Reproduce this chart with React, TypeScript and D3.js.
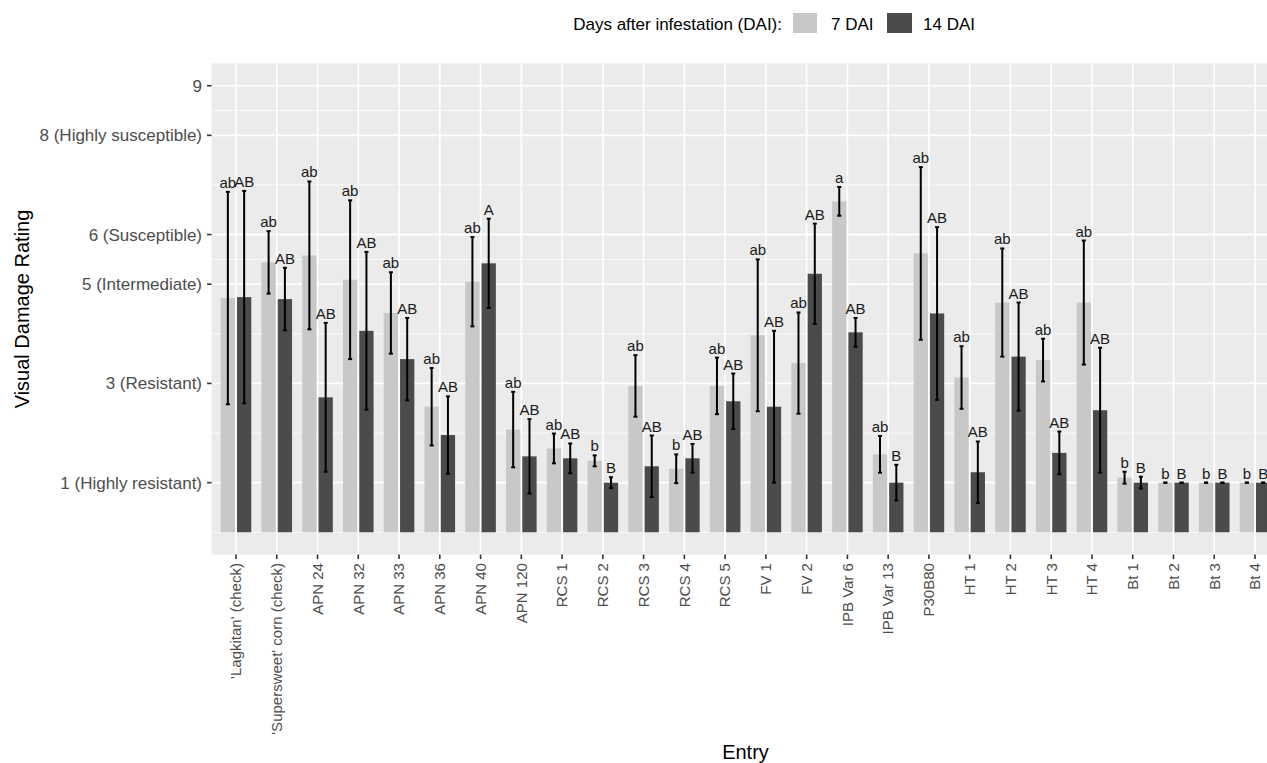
import React from "react";
import * as d3 from "d3";

const entries = ["'Lagkitan' (check)", "'Supersweet' corn (check)", "APN 24", "APN 32", "APN 33", "APN 36", "APN 40", "APN 120", "RCS 1", "RCS 2", "RCS 3", "RCS 4", "RCS 5", "FV 1", "FV 2", "IPB Var 6", "IPB Var 13", "P30B80", "HT 1", "HT 2", "HT 3", "HT 4", "Bt 1", "Bt 2", "Bt 3", "Bt 4"];
const dai7 = [4.72, 5.44, 5.58, 5.09, 4.42, 2.53, 5.05, 2.07, 1.69, 1.44, 2.95, 1.28, 2.95, 3.97, 3.41, 6.67, 1.57, 5.62, 3.12, 4.63, 3.47, 4.63, 1.1, 1.0, 1.0, 1.0];
const dai14 = [4.74, 4.7, 2.72, 4.06, 3.49, 1.96, 5.42, 1.53, 1.49, 1.0, 1.33, 1.49, 2.64, 2.53, 5.21, 4.03, 1.0, 4.41, 1.21, 3.54, 1.6, 2.46, 1.0, 1.0, 1.0, 1.0];
const se7 = [2.14, 0.63, 1.49, 1.6, 0.82, 0.78, 0.9, 0.76, 0.3, 0.11, 0.62, 0.29, 0.57, 1.53, 1.02, 0.29, 0.37, 1.74, 0.63, 1.09, 0.43, 1.25, 0.12, 0, 0, 0];
const se14 = [2.14, 0.63, 1.5, 1.59, 0.83, 0.78, 0.9, 0.75, 0.3, 0.11, 0.62, 0.29, 0.56, 1.53, 1.01, 0.29, 0.36, 1.74, 0.62, 1.09, 0.43, 1.26, 0.12, 0, 0, 0];
const letters7 = ["ab", "ab", "ab", "ab", "ab", "ab", "ab", "ab", "ab", "b", "ab", "b", "ab", "ab", "ab", "a", "ab", "ab", "ab", "ab", "ab", "ab", "b", "b", "b", "b"];
const letters14 = ["AB", "AB", "AB", "AB", "AB", "AB", "A", "AB", "AB", "B", "AB", "AB", "AB", "AB", "AB", "AB", "B", "AB", "AB", "AB", "AB", "AB", "B", "B", "B", "B"];
const groups = ["7 DAI", "14 DAI"];
const yBreaks = [1, 3, 5, 6, 8, 9];
const yBreakLabels = ["1 (Highly resistant)", "3 (Resistant)", "5 (Intermediate)", "6 (Susceptible)", "8 (Highly susceptible)", "9"];
const yMinor = [0, 2, 4, 5.5, 7, 8.5];

const W = 1267;
const H = 763;
const FONT = "'Liberation Sans', Arial, Helvetica, sans-serif";
const colors = ["#C8C8C8", "#4B4B4B"];

export default function App() {
  const x = d3.scalePoint<string>().domain(entries).range([236, 1255]);
  const step = x.step();
  const panelL = (x(entries[0]) as number) - 0.6 * step;
  const panelR = (x(entries[entries.length - 1]) as number) + 0.6 * step;
  const y = d3.scaleLinear().domain([-0.45, 9.45]).range([554.6, 63.4]);
  const panelT = y(9.45);
  const panelB = y(-0.45);
  const xg = d3
    .scaleBand<string>()
    .domain(groups)
    .range([-0.4 * step, 0.4 * step])
    .paddingInner(0.125)
    .paddingOuter(0.0625);
  const bw = xg.bandwidth();

  const series = [
    { key: groups[0], vals: dai7, se: se7, letters: letters7, color: colors[0] },
    { key: groups[1], vals: dai14, se: se14, letters: letters14, color: colors[1] },
  ];

  return (
    <svg
      width={W}
      height={H}
      style={{ position: "absolute", left: 0, top: 0, background: "#fff", fontFamily: FONT }}
    >
      <rect x={panelL} y={panelT} width={panelR - panelL} height={panelB - panelT} fill="#EBEBEB" />
      {yMinor.map((v) => (
        <line key={"mn" + v} x1={panelL} x2={panelR} y1={y(v)} y2={y(v)} stroke="#fff" strokeWidth={0.8} />
      ))}
      {yBreaks.map((v) => (
        <line key={"mj" + v} x1={panelL} x2={panelR} y1={y(v)} y2={y(v)} stroke="#fff" strokeWidth={1.6} />
      ))}
      {entries.map((e) => (
        <line key={"vg" + e} x1={x(e)} x2={x(e)} y1={panelT} y2={panelB} stroke="#fff" strokeWidth={1.6} />
      ))}
      {series.map((s) =>
        entries.map((e, i) => {
          const cx = (x(e) as number) + (xg(s.key) as number) + bw / 2;
          return (
            <rect
              key={s.key + e}
              x={cx - bw / 2}
              y={y(s.vals[i])}
              width={bw}
              height={y(0) - y(s.vals[i])}
              fill={s.color}
            />
          );
        })
      )}
      {series.map((s) =>
        entries.map((e, i) => {
          const cx = (x(e) as number) + (xg(s.key) as number) + bw / 2;
          const hi = y(s.vals[i] + s.se[i]);
          const lo = y(s.vals[i] - s.se[i]);
          const cw = 2;
          return (
            <g key={"eb" + s.key + e} stroke="#000" strokeWidth={2}>
              {s.se[i] > 0 && <line x1={cx} x2={cx} y1={hi} y2={lo} />}
              <line x1={cx - cw} x2={cx + cw} y1={hi} y2={hi} />
              <line x1={cx - cw} x2={cx + cw} y1={lo} y2={lo} />
            </g>
          );
        })
      )}
      {series.map((s) =>
        entries.map((e, i) => {
          const cx = (x(e) as number) + (xg(s.key) as number) + bw / 2;
          return (
            <text
              key={"lb" + s.key + e}
              x={cx}
              y={y(s.vals[i] + s.se[i]) - 4}
              textAnchor="middle"
              fontSize={15}
              fill="#1a1a1a"
            >
              {s.letters[i]}
            </text>
          );
        })
      )}
      {yBreaks.map((v, i) => (
        <g key={"yt" + v}>
          <line x1={panelL - 4.5} x2={panelL} y1={y(v)} y2={y(v)} stroke="#333" strokeWidth={1.6} />
          <text x={panelL - 9.5} y={y(v)} dy="0.35em" textAnchor="end" fontSize={17} fill="#4D4D4D">
            {yBreakLabels[i]}
          </text>
        </g>
      ))}
      {entries.map((e) => (
        <g key={"xt" + e}>
          <line x1={x(e)} x2={x(e)} y1={panelB} y2={panelB + 4.5} stroke="#333" strokeWidth={1.6} />
          <text
            transform={`translate(${(x(e) as number) + 5.3},${panelB + 8.5}) rotate(-90)`}
            textAnchor="end"
            fontSize={15}
            fill="#4D4D4D"
          >
            {e}
          </text>
        </g>
      ))}
      <text transform={`translate(29,${(panelT + panelB) / 2}) rotate(-90)`} textAnchor="middle" fontSize={20} fill="#000">
        Visual Damage Rating
      </text>
      <text x={(panelL + panelR) / 2} y={759} textAnchor="middle" fontSize={20} fill="#000">
        Entry
      </text>
      <g>
        <text x={782} y={29.5} textAnchor="end" fontSize={17} fill="#000">
          Days after infestation (DAI):
        </text>
        <rect x={793} y={13} width={24} height={20} fill={colors[0]} />
        <text x={831} y={29.5} fontSize={17} fill="#000">
          {groups[0]}
        </text>
        <rect x={887} y={13} width={25} height={20} fill={colors[1]} />
        <text x={923} y={29.5} fontSize={17} fill="#000">
          {groups[1]}
        </text>
      </g>
    </svg>
  );
}
